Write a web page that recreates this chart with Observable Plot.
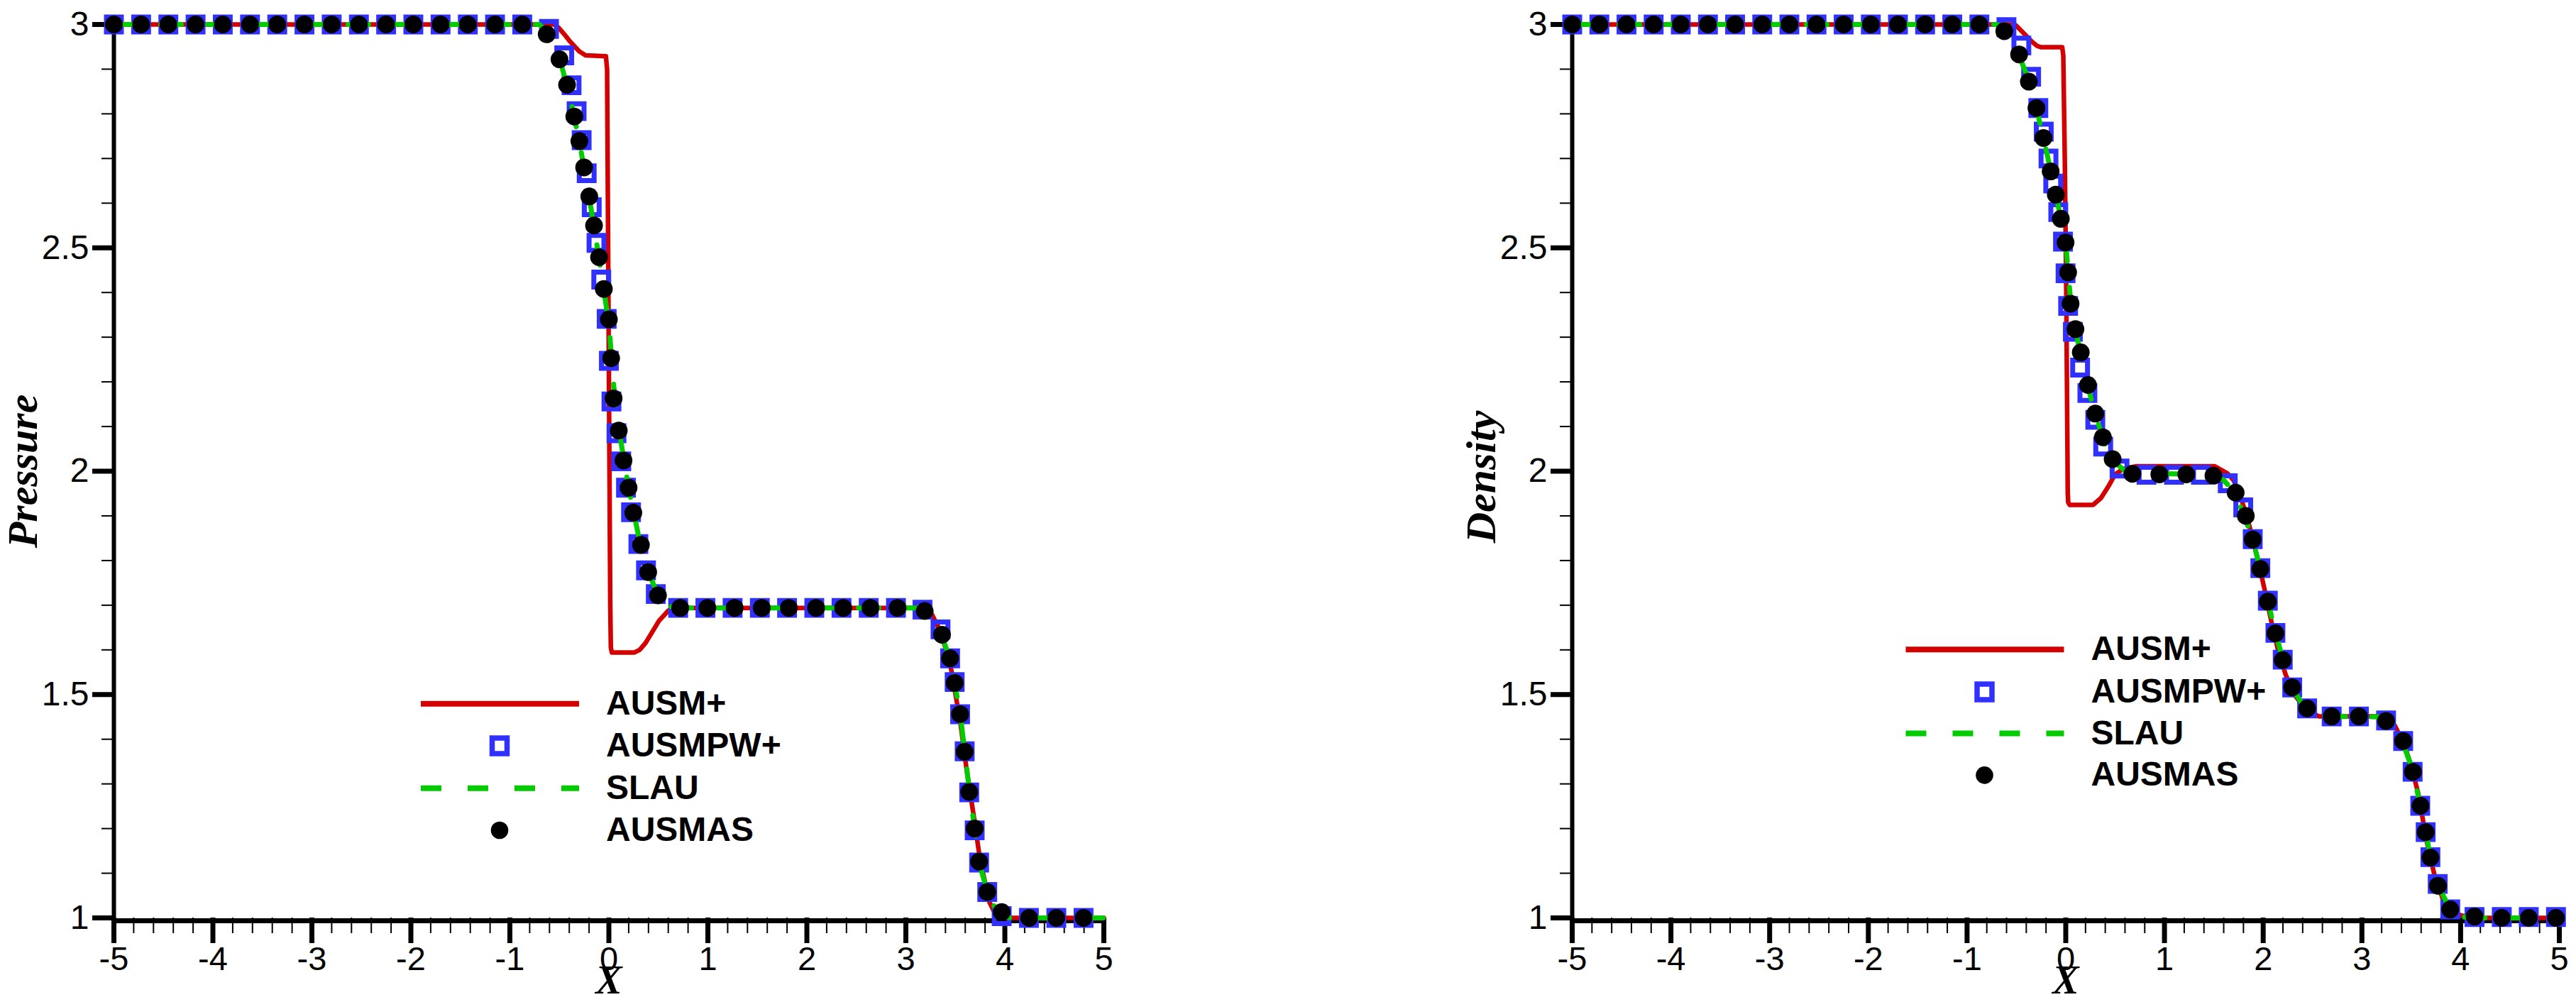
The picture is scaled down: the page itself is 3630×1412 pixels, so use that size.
<!DOCTYPE html>
<html>
<head>
<meta charset="utf-8">
<script src="https://cdn.jsdelivr.net/npm/d3@7"></script>
<script src="https://cdn.jsdelivr.net/npm/@observablehq/plot@0.6"></script>
<style>
  html, body { margin: 0; padding: 0; background: #ffffff; }
  #wrap { display: flex; width: 3630px; height: 1412px; background: #ffffff; }
</style>
</head>
<body>
<div id="wrap"></div>
<script>
// ---------- tick values ----------
const xMajorTicks = [-5, -4, -3, -2, -1, 0, 1, 2, 3, 4, 5];
const yMajorTicks = [1, 1.5, 2, 2.5, 3];
const xMinorTicks = d3.range(-50, 51, 2).map(d => d / 10).filter(d => !xMajorTicks.includes(d));
const yMinorTicks = d3.range(10, 31, 1).map(d => d / 10).filter(d => !yMajorTicks.includes(d));

// ---------- series names ----------
const seriesNames = ["AUSM+", "AUSMPW+", "SLAU", "AUSMAS"];

// ---------- Pressure panel ----------
const pressureAUSMplus = [
  [-5, 3], [-0.55, 3], [-0.509, 2.993], [-0.45, 2.978], [-0.397, 2.963], [-0.3, 2.94], [-0.235, 2.931],
  [-0.03, 2.929], [-0.018, 2.9], [-0.01, 2.6], [-0.002, 2.3], [0.006, 2.0], [0.014, 1.7], [0.02, 1.605],
  [0.03, 1.594], [0.255, 1.594], [0.31, 1.6], [0.369, 1.615], [0.438, 1.64], [0.506, 1.665], [0.597, 1.687],
  [0.643, 1.694], [3.18, 1.694], [3.25, 1.685], [3.32, 1.655], [3.4, 1.605], [3.46, 1.554], [3.55, 1.438],
  [3.615, 1.33], [3.69, 1.222], [3.75, 1.129], [3.845, 1.035], [3.91, 1.006], [3.97, 1.0], [5, 1]
];
const pressureAUSMPW = [
  [-5, 3], [-4.725, 3], [-4.45, 3], [-4.175, 3], [-3.9, 3], [-3.625, 3], [-3.35, 3], [-3.075, 3],
  [-2.8, 3], [-2.525, 3], [-2.25, 3], [-1.975, 3], [-1.7, 3], [-1.425, 3], [-1.15, 3], [-0.875, 3],
  [-0.605, 2.99], [-0.451, 2.931], [-0.377, 2.864], [-0.326, 2.806], [-0.275, 2.741], [-0.224, 2.667],
  [-0.173, 2.591], [-0.125, 2.511], [-0.077, 2.429], [-0.022, 2.341], [0.0, 2.247], [0.026, 2.156],
  [0.077, 2.085], [0.125, 2.022], [0.173, 1.963], [0.224, 1.908], [0.298, 1.837], [0.375, 1.778],
  [0.474, 1.725], [0.70, 1.694], [0.975, 1.694], [1.25, 1.694], [1.525, 1.694], [1.80, 1.694],
  [2.075, 1.694], [2.35, 1.694], [2.625, 1.694], [2.90, 1.694], [3.168, 1.69], [3.35, 1.646],
  [3.447, 1.581], [3.493, 1.528], [3.548, 1.456], [3.594, 1.373], [3.64, 1.281], [3.695, 1.196],
  [3.74, 1.124], [3.822, 1.058], [3.968, 1.004], [4.243, 1.0], [4.52, 1.0], [4.795, 1.0]
];
const pressureSLAU = [
  [-5, 3], [-0.7, 3], [-0.62, 2.98], [-0.5, 2.925], [-0.4, 2.845], [-0.3, 2.74], [-0.2, 2.615],
  [-0.1, 2.478], [0.0, 2.33], [0.05, 2.19], [0.1, 2.095], [0.2, 1.962], [0.3, 1.855], [0.4, 1.774],
  [0.5, 1.72], [0.6, 1.698], [0.7, 1.694], [3.15, 1.694], [3.25, 1.678], [3.35, 1.64], [3.45, 1.577],
  [3.55, 1.455], [3.65, 1.27], [3.75, 1.115], [3.85, 1.04], [3.95, 1.008], [4.05, 1.0], [5, 1]
];
const pressureAUSMAS = [
  [-5, 3], [-4.725, 3], [-4.45, 3], [-4.175, 3], [-3.9, 3], [-3.625, 3], [-3.35, 3], [-3.075, 3],
  [-2.8, 3], [-2.525, 3], [-2.25, 3], [-1.975, 3], [-1.7, 3], [-1.425, 3], [-1.15, 3], [-0.875, 3],
  [-0.628, 2.978], [-0.499, 2.922], [-0.4225, 2.865], [-0.349, 2.794], [-0.298, 2.739], [-0.25, 2.68],
  [-0.198, 2.615], [-0.15, 2.55], [-0.099, 2.479], [-0.051, 2.408], [0.0, 2.34], [0.023, 2.253],
  [0.048, 2.163], [0.1, 2.091], [0.148, 2.024], [0.199, 1.963], [0.247, 1.907], [0.324, 1.835],
  [0.397, 1.774], [0.496, 1.722], [0.72, 1.694], [0.995, 1.694], [1.27, 1.694], [1.544, 1.694],
  [1.818, 1.694], [2.093, 1.694], [2.367, 1.694], [2.642, 1.694], [2.916, 1.694], [3.19, 1.687],
  [3.365, 1.634], [3.447, 1.581], [3.493, 1.526], [3.548, 1.456], [3.594, 1.372], [3.64, 1.282],
  [3.695, 1.2], [3.74, 1.126], [3.822, 1.058], [3.968, 1.013], [4.245, 1.0], [4.52, 1.0], [4.795, 1.0]
];

// ---------- Density panel ----------
const densityAUSMplus = [
  [-5, 3], [-0.55, 3], [-0.505, 2.998], [-0.425, 2.98], [-0.345, 2.962], [-0.29, 2.952], [-0.249, 2.949],
  [-0.036, 2.949], [-0.025, 2.93], [-0.01, 2.7], [0.005, 2.4], [0.015, 2.1], [0.02, 1.95], [0.025, 1.93],
  [0.04, 1.9245], [0.277, 1.9245], [0.357, 1.94], [0.437, 1.968], [0.5, 1.993], [0.581, 2.005],
  [0.709, 2.011], [1.509, 2.011], [1.638, 1.995], [1.702, 1.979], [1.766, 1.947], [1.814, 1.912],
  [1.862, 1.876], [1.91, 1.834], [1.958, 1.791], [2.022, 1.727], [2.086, 1.66], [2.15, 1.6],
  [2.23, 1.543], [2.326, 1.497], [2.438, 1.465], [2.566, 1.451], [3.175, 1.451], [3.335, 1.43],
  [3.431, 1.387], [3.5, 1.34], [3.568, 1.281], [3.663, 1.165], [3.735, 1.096], [3.819, 1.043],
  [3.9, 1.018], [3.998, 1.006], [4.1, 1.0], [5, 1]
];
const densityAUSMPW = [
  [-5, 3], [-4.725, 3], [-4.45, 3], [-4.175, 3], [-3.9, 3], [-3.625, 3], [-3.35, 3], [-3.075, 3],
  [-2.8, 3], [-2.525, 3], [-2.25, 3], [-1.975, 3], [-1.7, 3], [-1.425, 3], [-1.15, 3], [-0.875, 3],
  [-0.601, 2.994], [-0.45, 2.953], [-0.351, 2.883], [-0.278, 2.813], [-0.223, 2.76], [-0.175, 2.7],
  [-0.127, 2.644], [-0.076, 2.58], [-0.028, 2.514], [-0.002, 2.443], [0.024, 2.37], [0.072, 2.312],
  [0.145, 2.232], [0.219, 2.175], [0.299, 2.115], [0.379, 2.055], [0.545, 2.006], [0.818, 1.992],
  [1.096, 1.992], [1.369, 1.992], [1.641, 1.973], [1.798, 1.919], [1.894, 1.848], [1.971, 1.783],
  [2.047, 1.71], [2.124, 1.638], [2.198, 1.578], [2.294, 1.516], [2.445, 1.469], [2.694, 1.451],
  [2.97, 1.451], [3.245, 1.442], [3.418, 1.396], [3.514, 1.327], [3.591, 1.251], [3.646, 1.192],
  [3.694, 1.136], [3.768, 1.076], [3.895, 1.019], [4.141, 1.002], [4.417, 1.002], [4.69, 1.002], [4.966, 1.002]
];
const densitySLAU = [
  [-5, 3], [-0.7, 3], [-0.6, 2.99], [-0.5, 2.945], [-0.4, 2.89], [-0.3, 2.815], [-0.2, 2.72],
  [-0.1, 2.62], [0.0, 2.51], [0.05, 2.38], [0.1, 2.315], [0.2, 2.21], [0.3, 2.125], [0.4, 2.06],
  [0.5, 2.02], [0.6, 2.0], [0.7, 1.995], [1.5, 1.993], [1.6, 1.98], [1.7, 1.955], [1.8, 1.905],
  [1.9, 1.842], [2.0, 1.755], [2.1, 1.66], [2.2, 1.577], [2.3, 1.513], [2.4, 1.477], [2.5, 1.458],
  [2.6, 1.451], [3.2, 1.45], [3.3, 1.428], [3.4, 1.4], [3.5, 1.34], [3.6, 1.245], [3.7, 1.13],
  [3.8, 1.06], [3.9, 1.017], [4.0, 1.003], [4.1, 1.0], [5, 1]
];
const densityAUSMAS = [
  [-5, 3], [-4.725, 3], [-4.45, 3], [-4.175, 3], [-3.9, 3], [-3.625, 3], [-3.35, 3], [-3.075, 3],
  [-2.8, 3], [-2.525, 3], [-2.25, 3], [-1.975, 3], [-1.7, 3], [-1.425, 3], [-1.15, 3], [-0.875, 3],
  [-0.623, 2.985], [-0.473, 2.933], [-0.374, 2.872], [-0.297, 2.813], [-0.226, 2.746], [-0.153, 2.671],
  [-0.101, 2.619], [-0.05, 2.565], [-0.002, 2.512], [0.024, 2.445], [0.049, 2.375], [0.098, 2.318],
  [0.152, 2.266], [0.225, 2.193], [0.299, 2.129], [0.376, 2.076], [0.475, 2.027], [0.675, 1.994],
  [0.948, 1.993], [1.221, 1.993], [1.496, 1.99], [1.721, 1.952], [1.824, 1.9], [1.894, 1.847],
  [1.971, 1.781], [2.047, 1.708], [2.124, 1.637], [2.198, 1.577], [2.294, 1.516], [2.445, 1.469],
  [2.694, 1.451], [2.97, 1.451], [3.245, 1.441], [3.418, 1.396], [3.517, 1.327], [3.594, 1.251],
  [3.646, 1.192], [3.695, 1.135], [3.77, 1.072], [3.895, 1.019], [4.141, 1.003], [4.417, 1.0],
  [4.69, 1.0], [4.966, 1.0]
];

// ---------- styles ----------
const RED = "#d40000";
const BLUE = "#3030ff";
const GREEN = "#00cc00";
const BLACK = "#000000";
const SANS = "'Liberation Sans', Arial, Helvetica, sans-serif";
const SERIF = "'Liberation Serif', 'Times New Roman', serif";

const toRows = arr => arr.map(([x, y]) => ({x, y}));

function panel({yLabel, yLabelShift, ausmPlus, ausmpw, slau, ausmas, marginLeft, marginRight, legend}) {
  const svg = Plot.plot({
    width: 1815,
    height: 1412,
    marginTop: 34,
    marginBottom: 119,
    marginLeft,
    marginRight,
    style: {fontFamily: SANS, background: "#ffffff", color: "#000000", overflow: "visible"},
    x: {domain: [-5, 5]},
    y: {domain: [1, 3]},
    marks: [
      // minor ticks
      Plot.axisX(xMinorTicks, {tickSize: 22, strokeWidth: 2, tickFormat: () => "", label: null}),
      Plot.axisY(yMinorTicks, {tickSize: 17, strokeWidth: 2, tickFormat: () => "", label: null}),
      // major ticks with labels
      Plot.axisX(xMajorTicks, {tickSize: 36, tickPadding: 4, strokeWidth: 7, fontSize: 47,
        tickFormat: d => String(d), label: null}),
      Plot.axisY(yMajorTicks, {tickSize: 30, tickPadding: 5, strokeWidth: 7, fontSize: 48,
        tickFormat: d => String(d), label: null}),
      // axis lines
      Plot.ruleX([-5], {strokeWidth: 6, stroke: BLACK}),
      Plot.ruleY([1], {strokeWidth: 7, stroke: BLACK, dy: 4}),
      // series
      Plot.line(toRows(ausmPlus), {x: "x", y: "y", stroke: RED, strokeWidth: 6.5, strokeLinejoin: "round"}),
      Plot.dot(toRows(ausmpw), {x: "x", y: "y", symbol: "square", r: 11.8, stroke: BLUE, strokeWidth: 7, fill: "none"}),
      Plot.line(toRows(slau), {x: "x", y: "y", stroke: GREEN, strokeWidth: 7, strokeDasharray: "29,37"}),
      Plot.dot(toRows(ausmas), {x: "x", y: "y", r: 12.5, fill: BLACK, stroke: "none"}),
      // axis titles
      Plot.text([yLabel], {frameAnchor: "left", dx: -109, dy: yLabelShift, rotate: -90, textAnchor: "middle",
        lineAnchor: "bottom", fontSize: 60, fontFamily: SERIF, fontStyle: "italic", fontWeight: "bold", fill: BLACK}),
      Plot.text(["X"], {frameAnchor: "bottom", dy: 106, textAnchor: "middle", lineAnchor: "bottom",
        fontSize: 56, fontFamily: SERIF, fontStyle: "italic", fontWeight: "bold", fill: BLACK})
    ]
  });

  // legend drawn inside the plot area
  const g = d3.select(svg).append("g").attr("class", "legend").attr("text-anchor", "start");
  const x0 = legend.x, rows = legend.rows;
  const lineLen = 223, markX = x0 + 111, textX = x0 + 261;
  // AUSM+
  g.append("line").attr("x1", x0).attr("x2", x0 + lineLen).attr("y1", rows[0]).attr("y2", rows[0])
    .attr("stroke", RED).attr("stroke-width", 8);
  // AUSMPW+
  g.append("rect").attr("x", markX - 10.5).attr("y", rows[1] - 11).attr("width", 21).attr("height", 22)
    .attr("fill", "none").attr("stroke", BLUE).attr("stroke-width", 7.5);
  // SLAU
  g.append("line").attr("x1", x0).attr("x2", x0 + lineLen).attr("y1", rows[2]).attr("y2", rows[2])
    .attr("stroke", GREEN).attr("stroke-width", 8).attr("stroke-dasharray", "29,37");
  // AUSMAS
  g.append("circle").attr("cx", markX).attr("cy", rows[3]).attr("r", 12.3).attr("fill", BLACK);
  seriesNames.forEach((name, i) => {
    g.append("text").attr("x", textX).attr("y", rows[i] + 15)
      .attr("text-anchor", "start")
      .attr("font-family", SANS).attr("font-weight", "bold").attr("font-size", 48)
      .attr("fill", BLACK).text(name);
  });
  return svg;
}

const wrap = document.getElementById("wrap");
wrap.appendChild(panel({
  yLabel: "Pressure", yLabelShift: 0,
  ausmPlus: pressureAUSMplus, ausmpw: pressureAUSMPW, slau: pressureSLAU, ausmas: pressureAUSMAS,
  marginLeft: 160, marginRight: 260,
  legend: {x: 593, rows: [991.7, 1051, 1110.7, 1170]}
}));
wrap.appendChild(panel({
  yLabel: "Density", yLabelShift: 8,
  ausmPlus: densityAUSMplus, ausmpw: densityAUSMPW, slau: densitySLAU, ausmas: densityAUSMAS,
  marginLeft: 400, marginRight: 24,
  legend: {x: 870.5, rows: [915.2, 975, 1033.5, 1092.4]}
}));
</script>
</body>
</html>
